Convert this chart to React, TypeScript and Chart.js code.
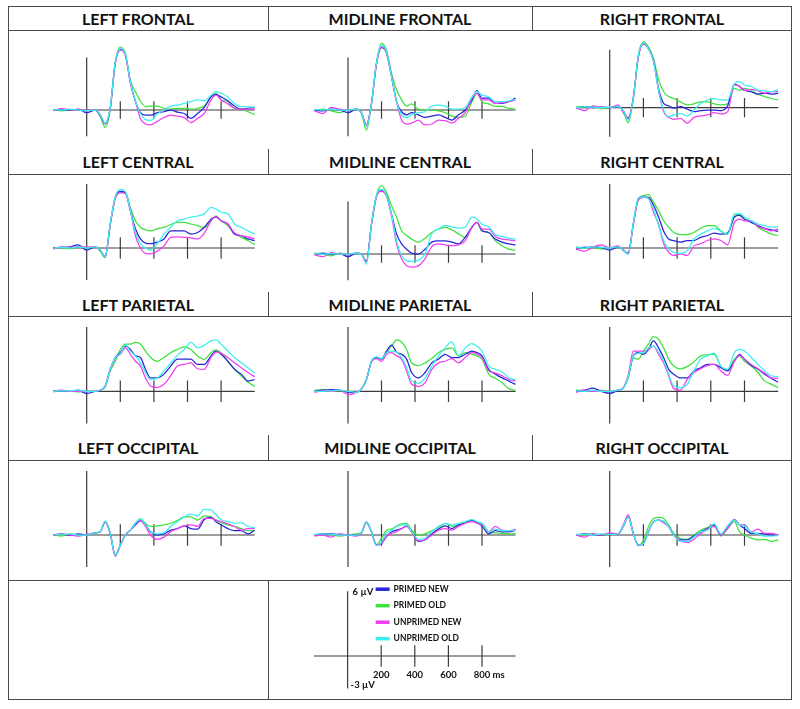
import React, { useEffect, useRef } from 'react';
import { Chart, registerables } from 'chart.js';

Chart.register(...registerables);

// ---------------- DATA ----------------
const TIMES = [-200, -150, -100, -50, 0, 50, 80, 110, 140, 170, 200, 230, 260, 290, 320, 350, 380, 420, 460, 500, 540, 580, 620, 660, 700, 740, 770, 800, 840, 880, 920, 960, 1000];

const SERIES_LABELS = ['PRIMED NEW', 'PRIMED OLD', 'UNPRIMED NEW', 'UNPRIMED OLD'];

const PANEL_TITLES = [
  'LEFT FRONTAL', 'MIDLINE FRONTAL', 'RIGHT FRONTAL',
  'LEFT CENTRAL', 'MIDLINE CENTRAL', 'RIGHT CENTRAL',
  'LEFT PARIETAL', 'MIDLINE PARIETAL', 'RIGHT PARIETAL',
  'LEFT OCCIPITAL', 'MIDLINE OCCIPITAL', 'RIGHT OCCIPITAL',
];

const X_TICKS = [200, 400, 600, 800];
const X_TICK_LABELS = ['200', '400', '600', '800'];
const X_UNIT = 'ms';
const Y_TOP_LABEL = '6 µV';
const Y_BOTTOM_LABEL = '-3 µV';

// Left frontal
const LF_PN = [0, 0.05, 0, 0.1, -0.3, 0, -0.6, -1.6, 0.2, 5.4, 6.9, 6.3, 3.2, 1.0, -0.3, -0.6, -0.6, -0.3, -0.2, 0, -0.25, -0.4, -0.95, -0.4, 0.3, 1.5, 1.8, 1.5, 1.05, 0.45, 0.1, 0.2, 0.3];
const LF_PO = [0.1, -0.1, 0, 0.05, 0, 0, -0.7, -2.0, 0.0, 5.5, 7.2, 6.5, 3.4, 2.1, 1.0, 0.4, 0.45, 0.45, 0.2, 0.1, 0.2, 0.2, 0.1, 0.2, 0.45, 1.5, 1.9, 1.2, 0.95, 0.2, 0.1, -0.2, -0.55];
const LF_UN = [-0.05, 0.15, 0.05, 0, 0, 0, -0.5, -1.6, 0.2, 5.3, 6.9, 6.3, 3.1, 1.0, -1.0, -1.6, -1.7, -1.3, -0.85, -0.6, -0.7, -0.85, -1.45, -0.95, -0.4, 1.15, 1.7, 1.15, 0.7, 0.2, 0.1, 0.1, 0.15];
const LF_UO = [0.05, 0, 0.1, 0, -0.1, 0, -0.5, -1.5, 0.3, 5.5, 7.1, 6.4, 3.3, 1.0, -0.4, -1.1, -1.2, -0.45, 0, 0.45, 0.55, 0.75, 0.95, 1.15, 1.05, 1.7, 2.1, 1.9, 1.5, 0.75, 0.4, 0.4, 0.3];

// Midline frontal
const MF_PN = [0, -0.1, 0.1, 0, -0.3, 0.1, -0.3, -1.7, 0.75, 5.3, 7.1, 6.5, 3.8, 0.95, -0.2, -0.55, -0.3, -0.55, -0.85, -0.7, -0.55, -0.85, -1.15, -0.55, 0, 1.15, 2.2, 1.35, 1.35, 0.75, 0.75, 0.95, 1.35];
const MF_PO = [0, 0.1, -0.1, -0.3, 0, 0.1, -0.4, -2.3, 0.6, 5.4, 7.6, 6.8, 4.2, 2.3, 1.15, 0.45, 0.7, 0.1, 0, 0, -0.1, -0.3, -0.7, -0.85, -0.7, 0.95, 1.9, 0.95, 0.7, 0.4, 0.4, 0.2, 0.1];
const MF_UN = [-0.1, -0.4, 0.3, 0.1, 0, 0.1, -0.3, -1.7, 0.7, 5.2, 7.2, 6.5, 3.8, 0.95, -1.15, -1.6, -1.5, -1.15, -1.7, -1.6, -1.15, -1.2, -1.5, -0.95, -0.3, 1.35, 1.9, 1.15, 1.15, 0.75, 0.85, 0.95, 1.15];
const MF_UO = [0.05, 0, 0.1, 0, 0, 0.1, -0.3, -1.9, 0.7, 5.4, 7.4, 6.6, 3.8, 0.95, -0.55, -0.85, -0.55, -0.3, -0.2, 0.45, 0.55, 0.45, 0.1, 0.1, 0.3, 1.5, 2.1, 1.7, 1.5, 0.95, 0.95, 1.05, 1.2];

// Right frontal
const RF_PN = [0, 0.1, 0, 0.05, 0, 0.1, -0.3, -1.1, 1.0, 5.3, 6.6, 6.1, 4.9, 2.0, 0.45, 0.2, -0.05, 0.1, -0.15, -0.4, -0.3, -0.25, -0.25, -0.3, 0.2, 2.45, 2.2, 1.8, 1.65, 1.4, 1.5, 1.4, 1.5];
const RF_PO = [0.1, 0, 0.1, -0.1, 0, 0.1, -0.4, -1.55, 0.9, 5.4, 6.8, 6.3, 5.1, 2.9, 1.65, 1.15, 0.95, 0.6, 0.3, 0.4, 0.6, 0.6, 0.4, 0.3, 0.4, 2.0, 1.8, 2.0, 1.8, 1.4, 1.15, 0.95, 0.8];
const RF_UN = [0, -0.3, 0.2, 0.05, 0, 0.3, -0.5, -1.0, 1.0, 5.2, 6.6, 6.1, 4.8, 1.8, -0.4, -1.0, -1.2, -1.1, -1.6, -1.0, -0.85, -0.75, -0.5, -0.65, -0.4, 2.35, 2.2, 1.8, 1.9, 1.75, 1.5, 1.65, 1.65];
const RF_UO = [0, 0.1, 0.05, 0, 0.05, 0.1, -0.3, -1.3, 1.0, 5.4, 6.7, 6.1, 4.8, 1.8, -0.25, -0.95, -0.75, -0.6, -0.85, -0.25, 0.45, 0.8, 0.95, 0.8, 0.8, 2.5, 2.7, 2.35, 2.2, 1.8, 1.75, 1.65, 1.9];

// Left central
const LC_PN = [0, 0.05, 0.1, 0.3, -0.2, 0.1, -0.2, -0.8, 2.25, 4.75, 5.3, 5.2, 3.5, 1.8, 0.85, 0.45, 0.4, 0.55, 0.85, 1.6, 1.6, 1.6, 1.3, 1.45, 1.95, 2.7, 2.9, 2.55, 2.25, 1.3, 1.15, 0.85, 0.7];
const LC_PO = [0.05, 0, -0.05, 0.1, 0, 0.1, -0.3, -0.9, 2.1, 4.7, 5.2, 5.2, 3.8, 2.55, 1.95, 1.7, 1.6, 1.8, 1.95, 2.2, 2.4, 2.4, 2.25, 2.1, 1.9, 2.55, 3.0, 2.55, 2.1, 1.4, 1.0, 0.7, 0.3];
const LC_UN = [-0.1, 0.1, 0.05, 0.1, 0.1, 0.1, -0.2, -0.8, 2.2, 4.6, 5.2, 5.1, 3.5, 1.15, 0, -0.5, -0.55, -0.3, 0.2, 1.0, 1.05, 1.0, 0.95, 0.85, 1.4, 2.55, 2.95, 2.55, 2.25, 1.4, 1.15, 1.05, 0.85];
const LC_UO = [0, 0.05, 0, 0.1, 0, 0.1, -0.2, -0.8, 2.3, 4.8, 5.5, 5.3, 3.5, 1.5, 0.4, 0, -0.2, 0.4, 1.3, 1.95, 2.55, 2.7, 2.9, 3.0, 3.2, 3.8, 3.65, 3.35, 3.2, 2.25, 1.95, 1.6, 1.3];

// Midline central
const MC_PN = [0, 0.1, 0, 0.05, -0.3, 0.1, 0, -0.85, 3.4, 6.6, 7.2, 6.65, 4.55, 2.3, 1.15, 0.55, 0.1, 0, 0.55, 1.35, 1.5, 1.5, 1.35, 1.15, 1.9, 3.05, 3.6, 2.65, 2.45, 1.7, 1.35, 1.15, 1.05];
const MC_PO = [0.1, 0, -0.2, 0.1, 0, 0.1, 0, -0.9, 3.3, 6.7, 7.8, 7.0, 5.5, 4.2, 2.65, 2.1, 1.7, 1.35, 1.8, 2.45, 2.85, 3.05, 2.75, 2.3, 1.9, 3.05, 3.6, 2.65, 2.45, 1.5, 0.95, 0.55, 0.4];
const MC_UN = [-0.1, -0.3, 0.15, 0, 0, 0.1, 0, -0.85, 3.3, 6.5, 7.15, 6.6, 4.35, 1.15, -0.55, -1.35, -1.5, -1.35, -0.55, 0.85, 1.15, 1.05, 0.95, 1.05, 1.5, 3.05, 3.6, 2.85, 2.85, 2.0, 1.7, 1.6, 1.5];
const MC_UO = [0.05, 0, 0.05, 0, 0, 0.1, 0, -1.15, 3.4, 6.7, 7.4, 6.65, 4.55, 1.5, -0.2, -0.75, -0.85, -0.7, 0, 2.3, 2.85, 3.25, 3.1, 2.95, 3.05, 4.2, 4.0, 3.4, 3.1, 2.2, 2.0, 1.8, 1.7];

// Right central
const RC_PN = [0, 0.05, 0.1, 0.05, -0.2, 0.1, -0.2, -0.5, 2.25, 4.6, 4.8, 4.75, 4.0, 2.9, 1.6, 0.85, 0.7, 0.55, 0.7, 0.7, 1.0, 1.15, 1.4, 1.3, 1.4, 2.9, 3.05, 2.7, 2.4, 2.1, 1.85, 1.7, 1.55];
const RC_PO = [0.1, 0, 0.05, -0.1, 0, 0.1, -0.2, -0.5, 2.2, 4.6, 4.9, 5.0, 4.3, 3.5, 2.55, 1.95, 1.45, 1.25, 1.25, 1.45, 1.85, 2.1, 2.1, 1.6, 1.3, 2.9, 3.2, 2.7, 2.55, 1.95, 1.6, 1.3, 1.15];
const RC_UN = [-0.1, -0.3, 0.1, 0.3, 0, 0.2, -0.2, -0.5, 2.2, 4.5, 4.75, 4.7, 3.35, 2.25, 0.4, -0.4, -0.7, -0.55, -0.7, 0.2, 0.4, 0.7, 0.85, 0.7, 0.3, 2.4, 2.7, 2.55, 2.55, 2.0, 1.8, 1.6, 1.8];
const RC_UO = [0.05, 0, 0.1, 0.05, 0, 0.1, -0.2, -0.6, 2.3, 4.7, 4.8, 4.6, 3.65, 2.1, 0.7, -0.1, -0.4, -0.5, -0.25, 0.85, 1.3, 1.6, 1.85, 1.55, 1.3, 3.2, 3.25, 2.9, 2.55, 2.25, 2.1, 1.95, 2.0];

// Left parietal
const LP_PN = [0, 0.05, 0, 0.1, -0.2, 0, 0.1, 0.5, 2.05, 3.15, 3.6, 4.2, 3.9, 3.3, 3.15, 2.05, 1.25, 1.25, 1.6, 2.35, 3.0, 3.0, 3.0, 2.5, 2.5, 3.3, 3.75, 3.45, 2.8, 2.05, 1.6, 0.95, 1.1];
const LP_PO = [0.05, 0, 0.05, -0.05, 0, 0, 0.1, 0.4, 1.9, 2.8, 3.9, 4.4, 4.4, 4.55, 4.4, 3.75, 3.15, 2.8, 3.15, 3.6, 3.9, 4.15, 3.9, 3.3, 3.0, 3.6, 3.85, 3.6, 2.8, 2.05, 1.45, 0.85, 0.45];
const LP_UN = [-0.05, 0.1, 0, 0, 0, 0, 0.1, 0.5, 2.0, 3.1, 3.45, 4.05, 3.45, 2.8, 2.35, 1.25, 0.5, 0.35, 0.65, 1.45, 2.35, 2.5, 2.65, 2.1, 2.05, 3.15, 3.65, 3.55, 3.15, 2.65, 2.2, 1.75, 1.35];
const LP_UO = [0, 0.05, 0.05, 0.1, 0, 0, 0.1, 0.5, 2.05, 3.15, 3.5, 4.3, 3.75, 3.3, 2.65, 1.75, 1.1, 1.25, 1.9, 2.65, 3.35, 3.9, 4.55, 4.05, 4.3, 4.7, 4.8, 4.4, 3.75, 3.15, 2.65, 2.2, 1.7];

// Midline parietal
const MP_PN = [0, 0.1, 0.15, 0.1, -0.1, -0.1, 0.2, 1.1, 2.8, 3.15, 3.0, 3.75, 4.3, 3.65, 3.45, 3.0, 1.75, 1.25, 1.75, 2.65, 3.0, 3.45, 3.15, 3.15, 3.45, 3.75, 3.6, 3.3, 2.05, 1.6, 1.25, 0.95, 0.65];
const MP_PO = [0.1, 0.15, 0, 0.05, 0, -0.1, 0.2, 1.1, 2.8, 3.15, 3.0, 3.6, 4.2, 4.8, 4.6, 3.9, 2.65, 2.4, 2.65, 3.05, 3.6, 3.9, 4.05, 3.3, 3.6, 3.45, 3.3, 3.0, 1.6, 1.2, 0.8, 0.25, 0.1];
const MP_UN = [-0.1, 0.05, 0, 0.1, -0.3, -0.1, 0.2, 1.1, 2.7, 3.05, 2.8, 3.45, 3.6, 3.3, 3.0, 1.9, 0.65, 0.45, 0.8, 2.05, 2.65, 2.8, 3.05, 2.65, 3.15, 3.6, 3.45, 3.15, 1.9, 1.7, 1.45, 1.1, 0.95];
const MP_UO = [0, 0, 0.05, 0.1, 0, -0.1, 0.2, 1.1, 2.8, 3.2, 3.05, 3.6, 3.75, 3.65, 3.15, 2.2, 0.95, 0.75, 1.25, 2.35, 3.3, 4.05, 4.6, 3.3, 4.05, 4.45, 4.2, 3.75, 2.35, 2.05, 1.8, 1.25, 1.05];

// Right parietal
const RP_PN = [0, 0.1, 0.3, 0, -0.2, 0.1, 0.3, 1.4, 3.3, 3.6, 3.45, 3.9, 4.7, 4.05, 3.15, 2.05, 1.6, 1.25, 1.25, 1.9, 2.2, 2.5, 2.5, 2.2, 1.9, 2.8, 3.45, 3.0, 2.4, 2.05, 1.6, 1.2, 0.85];
const RP_PO = [0.1, 0.05, 0, 0.1, 0, 0.1, 0.3, 1.3, 3.1, 3.0, 3.75, 4.4, 5.1, 4.85, 4.05, 3.0, 2.35, 2.1, 2.3, 2.75, 3.3, 3.4, 3.45, 2.35, 2.0, 3.0, 3.25, 2.8, 2.35, 1.75, 0.95, 0.65, 0.35];
const RP_UN = [-0.1, 0.1, 0, 0.05, 0, 0.1, 0.3, 1.5, 3.75, 3.75, 3.75, 3.9, 4.2, 3.45, 2.65, 1.45, 0.25, 0.1, 1.1, 1.75, 2.1, 2.4, 2.5, 1.9, 1.5, 2.8, 3.35, 3.0, 2.5, 2.1, 1.7, 1.25, 1.2];
const RP_UO = [0.05, 0, 0.1, 0, 0, 0.1, 0.3, 1.4, 3.3, 3.55, 3.6, 4.05, 4.2, 3.65, 2.8, 1.6, 0.5, 0.35, 0.65, 1.9, 3.0, 3.3, 3.55, 2.35, 2.05, 3.6, 3.9, 3.75, 3.15, 2.5, 1.9, 1.45, 1.35];

// Left occipital
const LO_PN = [0, 0.1, -0.05, 0.1, 0, 0.2, 0.3, 1.25, 0.15, -1.9, -0.95, 0, 0.45, 0.95, 1.35, 0.95, 0.3, 0, 0.1, 0.45, 0.6, 0.85, 0.6, 0.55, 1.45, 1.65, 1.25, 0.95, 0.6, 0.4, 0.4, 0.1, 0.45];
const LO_PO = [0.05, -0.1, 0.1, 0, 0, 0.2, 0.3, 1.25, 0.15, -1.9, -0.95, 0, 0.45, 1.1, 1.5, 1.1, 0.8, 0.85, 0.95, 1.1, 1.35, 1.7, 1.7, 1.4, 1.8, 1.7, 1.4, 1.15, 0.95, 0.8, 0.6, 0.4, 0.4];
const LO_UN = [-0.05, 0.1, 0, -0.1, 0.05, 0.2, 0.3, 1.2, 0.1, -2.0, -1.0, 0, 0.45, 1.1, 1.35, 0.8, 0, -0.4, -0.2, 0.3, 0.6, 0.85, 0.95, 0.8, 1.55, 1.55, 1.4, 1.25, 1.05, 0.8, 0.45, 0.6, 0.6];
const LO_UO = [0, 0.05, 0.1, 0, 0, 0.2, 0.3, 1.3, 0.15, -1.9, -0.95, 0, 0.45, 1.1, 1.5, 0.95, 0.3, 0.1, 0.2, 0.8, 1.25, 1.7, 1.95, 1.8, 2.4, 2.35, 1.9, 1.45, 1.25, 1.1, 1.15, 0.8, 0.7];

// Midline occipital
const MO_PN = [0, 0.1, 0.1, 0.05, 0, 0, 0.2, 1.2, 0.3, -0.95, -0.8, -0.15, 0.3, 0.45, 0.6, 0.85, 0.3, -0.6, -0.45, 0.1, 0.55, 0.85, 0.6, 0.95, 1.1, 1.4, 1.15, 0.85, 0.1, 0.4, 0.3, 0.3, 0.45];
const MO_PO = [0, 0.05, 0, -0.1, 0, 0.1, 0.2, 1.2, 0.3, -0.9, -0.3, 0.45, 0.55, 0.85, 1.05, 1.1, 0.45, 0, 0.1, 0.4, 0.7, 1.1, 0.8, 0.95, 1.25, 1.4, 1.15, 1.1, 0.3, 0.2, 0.15, 0.1, 0.1];
const MO_UN = [-0.1, 0, -0.2, 0.1, 0, -0.1, 0.2, 1.15, 0.3, -0.95, -0.8, -0.1, 0.15, 0.3, 0.6, 0.8, 0.3, -0.55, -0.45, 0, 0.45, 0.6, 0.45, 0.8, 1.1, 1.25, 1.1, 0.95, 0.3, 0.8, 0.45, 0.4, 0.55];
const MO_UO = [0.05, 0.1, 0.05, 0, 0, 0, 0.2, 1.25, 0.3, -1.0, -0.65, 0.2, 0.4, 0.8, 0.95, 0.95, 0.3, -0.4, -0.3, 0.3, 0.8, 1.1, 0.95, 1.1, 1.25, 1.45, 1.25, 1.1, 0.3, 0.55, 0.4, 0.4, 0.45];

// Right occipital
const RO_PN = [0, 0.1, 0.05, 0, 0.1, 0.1, 0.8, 1.7, 0.15, -0.95, -0.8, 0.3, 1.25, 1.4, 1.25, 0.8, 0, -0.45, -0.45, -0.1, 0.3, 0.6, 0.95, 0, 0.8, 1.45, 0.95, 0.6, 0.15, 0.15, 0.1, 0, 0];
const RO_PO = [0.05, 0, 0.1, -0.05, 0.05, 0.1, 0.8, 1.7, 0.15, -1.0, -0.5, 0.8, 1.55, 1.65, 1.55, 0.95, 0.15, -0.3, -0.4, 0, 0.45, 0.7, 0.95, -0.1, 0.6, 1.25, 0.3, 0, -0.3, -0.45, -0.4, -0.6, -0.45];
const RO_UN = [0, -0.2, 0.1, 0, 0.2, 0.1, 0.9, 1.9, 0.2, -0.95, -0.8, 0.3, 1.25, 1.4, 1.15, 0.8, 0, -0.55, -0.7, -0.4, 0.15, 0.55, 0.8, 0, 0.6, 1.45, 0.95, 0.95, 0.3, 0.55, 0.15, 0.15, 0];
const RO_UO = [0.05, 0.05, 0, 0.1, 0.05, 0.1, 0.8, 1.7, 0.15, -0.95, -0.8, 0.3, 1.25, 1.4, 1.3, 0.8, 0, -0.6, -0.6, -0.2, 0.3, 0.45, 1.05, 0.1, 0.85, 1.4, 0.95, 0.85, 0.3, 0.1, -0.1, -0.1, -0.05];

const PANEL_DATA = [
  [LF_PN, LF_PO, LF_UN, LF_UO], [MF_PN, MF_PO, MF_UN, MF_UO], [RF_PN, RF_PO, RF_UN, RF_UO],
  [LC_PN, LC_PO, LC_UN, LC_UO], [MC_PN, MC_PO, MC_UN, MC_UO], [RC_PN, RC_PO, RC_UN, RC_UO],
  [LP_PN, LP_PO, LP_UN, LP_UO], [MP_PN, MP_PO, MP_UN, MP_UO], [RP_PN, RP_PO, RP_UN, RP_UO],
  [LO_PN, LO_PO, LO_UN, LO_UO], [MO_PN, MO_PO, MO_UN, MO_UO], [RO_PN, RO_PO, RO_UN, RO_UO],
];

// ---------------- STYLE / LAYOUT ----------------
const X_MIN = -200;
const X_MAX = 1000;
const Y_MIN = -3;
const Y_MAX = 6;
const TICK_UV = 1;

const SERIES_COLORS = ['#2626d9', '#3de23d', '#f03ef0', '#3aefef'];
const SERIES_ORDER = [2, 3, 1, 0];
const AXIS_COLOR = '#3c3c3c';
const BORDER_COLOR = '#4a4a4a';
const FONT = 'Lato, "Open Sans", "DejaVu Sans", sans-serif';

const FRAME = { left: 8, right: 792, top: 6, bottom: 700 };
const COLS = [
  { left: 8, right: 268, axisX: 86.7, msPx: 0.168 },
  { left: 268, right: 532, axisX: 348, msPx: 0.1675 },
  { left: 532, right: 792, axisX: 609.7, msPx: 0.1685 },
];
const HEADER_ROWS = [
  { top: 6, bottom: 30 },
  { top: 149, bottom: 174 },
  { top: 292, bottom: 316 },
  { top: 435, bottom: 460 },
];
const PLOT_ROWS = [
  { top: 30, bottom: 149 },
  { top: 174, bottom: 292 },
  { top: 316, bottom: 435 },
  { top: 460, bottom: 580 },
];
const PANEL_AXES = [
  { baseY: 110, uvPx: 8.73 }, { baseY: 110, uvPx: 8.77 }, { baseY: 107.7, uvPx: 9.67 },
  { baseY: 248, uvPx: 10.67 }, { baseY: 254, uvPx: 8.77 }, { baseY: 248, uvPx: 10.67 },
  { baseY: 391.3, uvPx: 10.73 }, { baseY: 391.3, uvPx: 10.73 }, { baseY: 391.3, uvPx: 10.73 },
  { baseY: 535, uvPx: 10.67 }, { baseY: 535, uvPx: 10.67 }, { baseY: 535, uvPx: 10.67 },
];
const LEGEND_CELL = { left: 268, right: 792, top: 580, bottom: 700 };
const LEGEND_AXES = { axisX: 347.6, msPx: 0.168, baseY: 656, uvPx: 10.8 };

// ---------------- PLUGINS ----------------
const axesPlugin = {
  id: 'erpAxes',
  beforeDatasetsDraw(chart: any) {
    const { ctx, scales } = chart;
    const x = scales.x;
    const y = scales.y;
    ctx.save();
    ctx.strokeStyle = AXIS_COLOR;
    ctx.lineWidth = 1.2;
    ctx.beginPath();
    const x0 = x.getPixelForValue(0);
    const y0 = y.getPixelForValue(0);
    ctx.moveTo(x0, y.getPixelForValue(Y_MAX));
    ctx.lineTo(x0, y.getPixelForValue(Y_MIN));
    ctx.moveTo(x.getPixelForValue(X_MIN), y0);
    ctx.lineTo(x.getPixelForValue(X_MAX), y0);
    X_TICKS.forEach((t) => {
      const xt = x.getPixelForValue(t);
      ctx.moveTo(xt, y.getPixelForValue(TICK_UV));
      ctx.lineTo(xt, y.getPixelForValue(-TICK_UV));
    });
    ctx.stroke();
    ctx.restore();
  },
};

const legendPlugin = {
  id: 'erpLegend',
  afterDraw(chart: any) {
    const { ctx, scales } = chart;
    const x = scales.x;
    const y = scales.y;
    const x0 = x.getPixelForValue(0);
    ctx.save();
    ctx.fillStyle = '#111';
    ctx.font = `bold 9.5px ${FONT}`;
    ctx.textBaseline = 'middle';
    ctx.textAlign = 'left';
    ctx.fillText(Y_TOP_LABEL, x0 + 5, y.getPixelForValue(Y_MAX) + 1);
    ctx.fillText(Y_BOTTOM_LABEL, x0 + 3, y.getPixelForValue(Y_MIN) - 3);
    // tick labels
    ctx.textBaseline = 'top';
    const labelY = y.getPixelForValue(-TICK_UV) + 3;
    X_TICKS.forEach((t, i) => {
      const xt = x.getPixelForValue(t);
      ctx.textAlign = 'center';
      ctx.fillText(X_TICK_LABELS[i], xt, labelY);
      if (i === X_TICKS.length - 1) {
        const w = ctx.measureText(X_TICK_LABELS[i]).width;
        ctx.textAlign = 'left';
        ctx.fillText(' ' + X_UNIT, xt + w / 2, labelY);
      }
    });
    // legend entries
    ctx.font = `bold 8.5px ${FONT}`;
    ctx.textAlign = 'left';
    ctx.textBaseline = 'middle';
    const top = y.getPixelForValue(Y_MAX) - 2;
    chart.data.datasets.forEach((ds: any, i: number) => {
      const yy = top + i * 16.5;
      ctx.strokeStyle = ds.borderColor;
      ctx.lineWidth = 3.5;
      ctx.beginPath();
      ctx.moveTo(x0 + 28, yy);
      ctx.lineTo(x0 + 42, yy);
      ctx.stroke();
      ctx.fillStyle = '#111';
      ctx.fillText(ds.label, x0 + 46, yy);
    });
    ctx.restore();
  },
};

// ---------------- CONFIG BUILDERS ----------------
function baseOptions(padding: any) {
  return {
    animation: false,
    responsive: false,
    devicePixelRatio: 1,
    events: [],
    layout: { padding },
    scales: {
      x: { type: 'linear', min: X_MIN, max: X_MAX, display: false },
      y: { type: 'linear', min: Y_MIN, max: Y_MAX, display: false },
    },
    plugins: { legend: { display: false }, tooltip: { enabled: false }, title: { display: false } },
  };
}

function paddingFor(cell: any, axisX: number, msPx: number, baseY: number, uvPx: number) {
  return {
    left: axisX + X_MIN * msPx - cell.left,
    right: cell.right - (axisX + X_MAX * msPx),
    top: baseY - Y_MAX * uvPx - cell.top,
    bottom: cell.bottom - (baseY - Y_MIN * uvPx),
  };
}

function panelConfig(i: number) {
  const col = COLS[i % 3];
  const row = PLOT_ROWS[Math.floor(i / 3)];
  const ax = PANEL_AXES[i];
  const cell = { left: col.left, right: col.right, top: row.top, bottom: row.bottom };
  const padding = paddingFor(cell, col.axisX, col.msPx, ax.baseY, ax.uvPx);
  return {
    type: 'line',
    data: {
      datasets: PANEL_DATA[i].map((vals, s) => ({
        label: SERIES_LABELS[s],
        data: vals.map((v, k) => ({ x: TIMES[k], y: v })),
        borderColor: SERIES_COLORS[s],
        backgroundColor: SERIES_COLORS[s],
        borderWidth: 1.25,
        pointRadius: 0,
        cubicInterpolationMode: 'monotone',
        fill: false,
        clip: false,
        order: SERIES_ORDER[s],
      })),
    },
    options: baseOptions(padding),
    plugins: [axesPlugin],
  };
}

function legendConfig() {
  const padding = paddingFor(LEGEND_CELL, LEGEND_AXES.axisX, LEGEND_AXES.msPx, LEGEND_AXES.baseY, LEGEND_AXES.uvPx);
  return {
    type: 'line',
    data: {
      datasets: SERIES_LABELS.map((label, s) => ({
        label,
        data: [],
        borderColor: SERIES_COLORS[s],
        pointRadius: 0,
      })),
    },
    options: baseOptions(padding),
    plugins: [axesPlugin, legendPlugin],
  };
}

// ---------------- COMPONENTS ----------------
function ChartCanvas({ cell, build }: { cell: any; build: () => any }) {
  const ref = useRef<HTMLCanvasElement>(null);
  const w = cell.right - cell.left;
  const h = cell.bottom - cell.top;
  useEffect(() => {
    const chart = new Chart(ref.current as HTMLCanvasElement, build());
    return () => chart.destroy();
  }, []);
  return (
    <canvas
      ref={ref}
      width={w}
      height={h}
      style={{ position: 'absolute', left: cell.left, top: cell.top, width: w, height: h }}
    />
  );
}

function HLine({ y }: { y: number }) {
  return (
    <div style={{ position: 'absolute', left: FRAME.left, width: FRAME.right - FRAME.left, top: y, height: 1, background: BORDER_COLOR }} />
  );
}

function VLine({ x, top, bottom }: { x: number; top: number; bottom: number }) {
  return <div style={{ position: 'absolute', left: x, top, width: 1, height: bottom - top, background: BORDER_COLOR }} />;
}

export default function App() {
  const lines: number[] = [];
  HEADER_ROWS.forEach((r) => { lines.push(r.bottom); });
  PLOT_ROWS.forEach((r, i) => { if (i > 0) lines.push(r.top); });
  lines.push(LEGEND_CELL.top);

  return (
    <div style={{ position: 'absolute', left: 0, top: 0, width: 800, height: 709, background: '#fff', fontFamily: FONT }}>
      {PANEL_TITLES.map((t, i) => {
        const col = COLS[i % 3];
        const hr = HEADER_ROWS[Math.floor(i / 3)];
        return (
          <div
            key={'h' + i}
            style={{
              position: 'absolute', left: col.left, top: hr.top, width: col.right - col.left, height: hr.bottom - hr.top,
              display: 'flex', alignItems: 'center', justifyContent: 'center',
              fontWeight: 700, fontSize: 16, color: '#111', letterSpacing: 0,
            }}
          >
            {t}
          </div>
        );
      })}
      {PANEL_TITLES.map((_, i) => (
        <ChartCanvas
          key={'c' + i}
          cell={{ left: COLS[i % 3].left, right: COLS[i % 3].right, top: PLOT_ROWS[Math.floor(i / 3)].top, bottom: PLOT_ROWS[Math.floor(i / 3)].bottom }}
          build={() => panelConfig(i)}
        />
      ))}
      <ChartCanvas cell={LEGEND_CELL} build={legendConfig} />
      {/* frame */}
      <div style={{ position: 'absolute', left: FRAME.left, top: FRAME.top, width: FRAME.right - FRAME.left, height: FRAME.bottom - FRAME.top, border: `1px solid ${BORDER_COLOR}`, boxSizing: 'border-box', pointerEvents: 'none' }} />
      {lines.map((y, i) => <HLine key={'l' + i} y={y} />)}
      {HEADER_ROWS.map((r, i) => (
        <React.Fragment key={'v' + i}>
          <VLine x={COLS[1].left} top={r.top} bottom={r.bottom} />
          <VLine x={COLS[2].left} top={r.top} bottom={r.bottom} />
        </React.Fragment>
      ))}
      <VLine x={COLS[1].left} top={LEGEND_CELL.top} bottom={FRAME.bottom} />
    </div>
  );
}
